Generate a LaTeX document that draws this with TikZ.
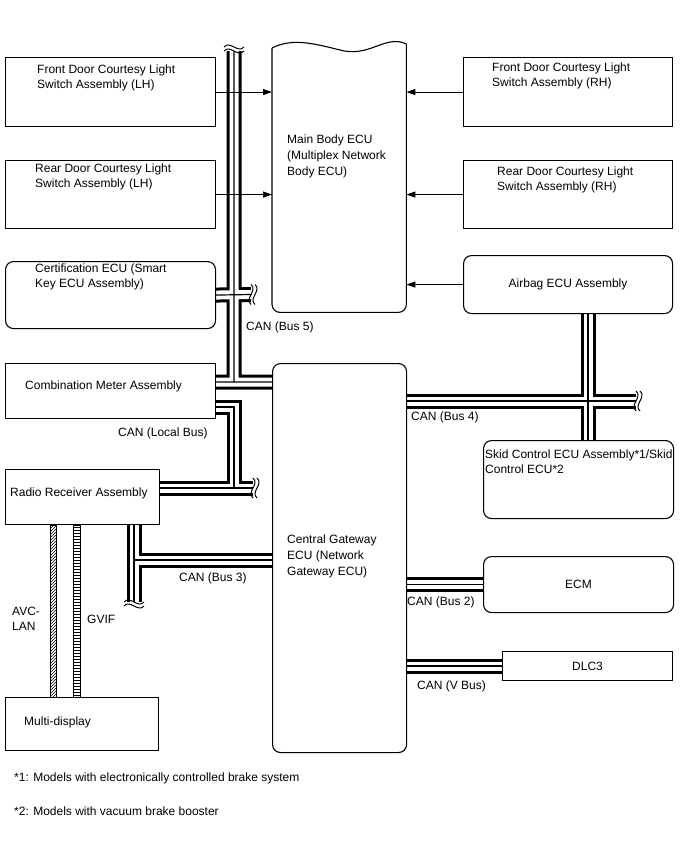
\documentclass[tikz,border=0pt]{standalone}
\usepackage{fontspec}
\setmainfont{Liberation Sans}
\usetikzlibrary{arrows.meta,positioning,patterns,backgrounds}

% wavy break at the free end of a horizontal cable
\newcommand{\hbrk}[1]{%
  \draw[brk] ([shift={(0,-10)}]#1) .. controls +(7,6) and +(-7,-6) .. ([shift={(0,10)}]#1)
             ([shift={(4,-10)}]#1) .. controls +(7,6) and +(-7,-6) .. ([shift={(4,10)}]#1);}
% wavy break at the free end of a vertical cable (#2 = side of second mark)
\newcommand{\vbrk}[2]{%
  \draw[brk] ([shift={(-10,0)}]#1) .. controls +(6,-7) and +(-6,7) .. ([shift={(10,0)}]#1)
             ([shift={(-10,#2)}]#1) .. controls +(6,-7) and +(-6,7) .. ([shift={(10,#2)}]#1);}

\begin{document}
\begin{tikzpicture}[x=1pt, y=-1pt,
    box/.style 2 args={draw, line width=1.1pt, anchor=north west, inner sep=0pt,
                minimum width=#1, minimum height=#2, font=\fontsize{12}{15}\selectfont},
    rbox/.style 2 args={box={#1}{#2}, rounded corners=8pt},
    txt/.style={anchor=north west, inner sep=0pt, align=left, font=\fontsize{12}{15}\selectfont},
    ecutxt/.style={txt, font=\fontsize{12}{16}\selectfont},
    arr/.style={-{Triangle[length=9pt, width=6pt]}, line width=1.1pt},
    cable/.style={line width=15pt, postaction={draw=white, line width=9pt},
                  postaction={draw=black, line width=1.2pt}},
    brk/.style={line width=1pt},
]
\useasboundingbox (0,0) rectangle (688,852);

% left column
\node[box={210pt}{69pt}] (fdl) at (5,57) {};
\node[box={210pt}{68pt}] (rdl) at (5,160) {};
\node[rbox={210pt}{67pt}] (cert) at (5,261) {};
\node[box={210pt}{55pt}] (meter) at (5,363) {};
\node[box={154pt}{55pt}] (radio) at (5,469) {};
\node[box={153pt}{53pt}] (mdisp) at (5,697) {};

% right column
\node[box={209pt}{69pt}] (fdr) at (463,57) {};
\node[box={209pt}{68pt}] (rdr) at (463,160) {};
\node[rbox={209pt}{58pt}] (airbag) at (463,255) {Airbag ECU Assembly};
\node[rbox={190pt}{78pt}] (skid) at (483,440) {};
\node[rbox={190pt}{56pt}] (ecm) at (483,556) {ECM};
\node[box={170pt}{29pt}] (dlc) at (502,651) {DLC3};

% ECUs in the middle
\node[rbox={134pt}{389pt}] (gw) at (272,363) {};
\node[anchor=north west, inner sep=0pt, minimum width=134pt, minimum height=264pt] (mbecu) at (272,48) {};
\draw[line width=1.1pt, rounded corners=8pt] (mbecu.north west) -- (mbecu.south west)
    -- (mbecu.south east) -- ([yshift=4pt]mbecu.north east);
\draw[line width=1.1pt] ([yshift=4pt]mbecu.north east) .. controls (385,34) and (370,58) .. (340,50)
    .. controls (312,43) and (292,38) .. (mbecu.north west);

% box texts
\node[txt] (fdlt) at (37,65) {Front Door Courtesy Light\\Switch Assembly (LH)};
\node[txt] (rdlt) at (35,164) {Rear Door Courtesy Light\\Switch Assembly (LH)};
\node[txt] (certt) at (35,264) {Certification ECU (Smart\\Key ECU Assembly)};
\node[txt] (metert) at (25,381) {Combination Meter Assembly};
\node[txt] (radiot) at (10,488) {Radio Receiver Assembly};
\node[txt] (mdispt) at (24,717) {Multi-display};
\node[txt] (fdrt) at (492,63) {Front Door Courtesy Light\\Switch Assembly (RH)};
\node[txt] (rdrt) at (497,167) {Rear Door Courtesy Light\\Switch Assembly (RH)};
\node[txt] (skidt) at (485,450) {Skid Control ECU Assembly*1/Skid\\Control ECU*2};
\node[ecutxt] (mbecut) at (287,135) {Main Body ECU\\(Multiplex Network\\Body ECU)};
\node[ecutxt] (gwt) at (287,535) {Central Gateway\\ECU (Network\\Gateway ECU)};

% CAN cables
\coordinate (b5top) at (234,51);
\coordinate (b5j) at (234,382);
\coordinate (b5brk) at (251,294.5);
\coordinate (lbc) at (234,407);
\coordinate (lbj) at (234,488);
\coordinate (lbbrk) at (253,488);
\coordinate (b3j) at (134,560);
\coordinate (b3brk) at (134,602);
\coordinate (b4x) at (588,401);
\coordinate (b4brk) at (636,401);
\begin{scope}[on background layer]
\draw[cable] (b5top) -- (b5j)
    (meter.east |- b5j) -- (gw.west |- b5j)
    (cert.east) -- (b5brk);
\draw[cable] (meter.east |- lbc) -- (lbc) -- (lbj)
    (radio.east |- lbj) -- (lbbrk);
\draw[cable] (radio.south -| b3j) -- (b3brk)
    (b3j) -- (gw.west |- b3j);
\draw[cable] (gw.east |- b4x) -- (b4brk)
    (airbag.south -| b4x) -- (skid.north -| b4x);
\draw[cable] (gw.east |- ecm.west) -- (ecm.west);
\draw[cable] (gw.east |- dlc.west) -- (dlc.west);
\end{scope}
\vbrk{b5top}{-4}
\hbrk{b5brk}
\hbrk{lbbrk}
\vbrk{b3brk}{4}
\hbrk{b4brk}

% cable labels
\node[txt] (b5t) at (246,322) {CAN (Bus 5)};
\node[txt] (lbt) at (118,428) {CAN (Local Bus)};
\node[txt] (b3t) at (179,573) {CAN (Bus 3)};
\node[txt] (b4t) at (411,412) {CAN (Bus 4)};
\node[txt] (b2t) at (407,597) {CAN (Bus 2)};
\node[txt] (vbt) at (417,681) {CAN (V Bus)};

% AVC-LAN and GVIF
\coordinate (avcl) at (50,0);
\coordinate (avcr) at (56,0);
\coordinate (gvl) at (73,0);
\coordinate (gvr) at (80,0);
\draw[line width=0.8pt, pattern=north east lines] (radio.south -| avcl) rectangle (mdisp.north -| avcr);
\draw[line width=0.8pt, pattern=horizontal lines] (radio.south -| gvl) rectangle (mdisp.north -| gvr);
\node[txt] (avct) at (12,607) {AVC-\\LAN};
\node[txt] (gvift) at (87,615) {GVIF};

% inputs to Main Body ECU
\draw[arr] (fdl.east) -- (fdl.east -| mbecu.west);
\draw[arr] (rdl.east) -- (rdl.east -| mbecu.west);
\draw[arr] (fdr.west) -- (fdr.west -| mbecu.east);
\draw[arr] (rdr.west) -- (rdr.west -| mbecu.east);
\draw[arr] (airbag.west) -- (airbag.west -| mbecu.east);

% notes
\node[txt] (fn1) at (14,773) {*1: Models with electronically controlled brake system};
\node[txt] (fn2) at (14,807) {*2: Models with vacuum brake booster};
\end{tikzpicture}
\end{document}
